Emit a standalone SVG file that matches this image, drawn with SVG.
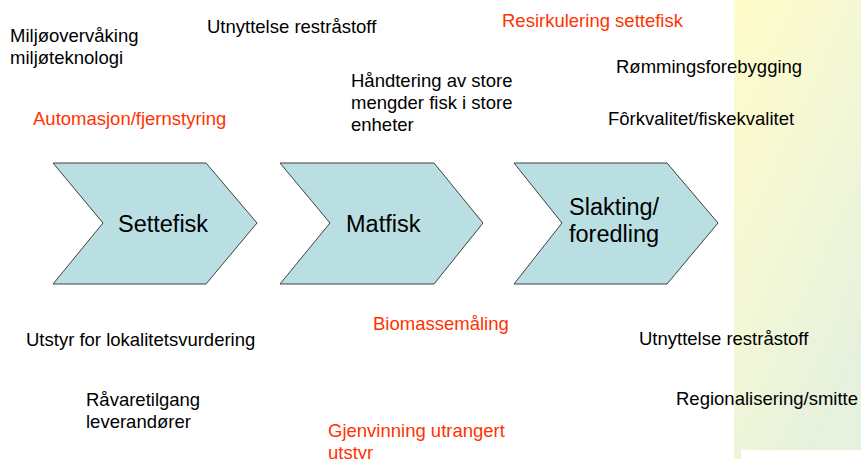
<svg xmlns="http://www.w3.org/2000/svg" width="861" height="459" viewBox="0 0 861 459">
<style>
.t{font-family:"Liberation Sans",Arial,sans-serif;font-size:18.5px;fill:#000}
.r{fill:#FF3300}
.lbl{font-family:"Liberation Sans",Arial,sans-serif;font-size:23.5px;fill:#000}
.chev{fill:#B9DFE3;stroke:#404040;stroke-width:1}
</style>
<defs>
<linearGradient id="bg" x1="0" y1="0" x2="0.6" y2="1">
<stop offset="0" stop-color="#FFFCC8"/>
<stop offset="0.35" stop-color="#F8F9D2"/>
<stop offset="0.7" stop-color="#EEF5D8"/>
<stop offset="1" stop-color="#E6F1DE"/>
</linearGradient>
</defs>
<rect x="0" y="0" width="861" height="459" fill="#FFFFFF"/>
<rect x="734" y="0" width="127" height="459" fill="url(#bg)"/>
<rect x="741" y="450" width="120" height="9" fill="#FFFFFF"/>
<g id="connectors"></g>
<g id="settefisk">
<polygon class="chev" points="53,163 206,163 257,223 206,284 53,284 103,223"/>
<text class="lbl" x="118" y="232">Settefisk</text>
</g>
<g id="matfisk">
<polygon class="chev" points="280,163 434,163 483,223 434,284 280,284 330,223"/>
<text class="lbl" x="346" y="232">Matfisk</text>
</g>
<g id="slakting">
<polygon class="chev" points="514,163 667,163 718,223 667,284 514,284 562,223"/>
<text class="lbl" x="569" y="215">Slakting/</text>
<text class="lbl" x="569" y="242">foredling</text>
</g>
<g id="labels">
<text class="t" x="10" y="42">Miljøovervåking</text>
<text class="t" x="10" y="64">miljøteknologi</text>
<text class="t" x="207" y="33">Utnyttelse restråstoff</text>
<text class="t r" x="33" y="125">Automasjon/fjernstyring</text>
<text class="t" x="351" y="87">Håndtering av store</text>
<text class="t" x="351" y="109">mengder fisk i store</text>
<text class="t" x="351" y="131">enheter</text>
<text class="t r" x="502" y="27">Resirkulering settefisk</text>
<text class="t" x="616" y="73">Rømmingsforebygging</text>
<text class="t" x="608" y="125">Fôrkvalitet/fiskekvalitet</text>
<text class="t" x="26" y="346">Utstyr for lokalitetsvurdering</text>
<text class="t r" x="373" y="330">Biomassemåling</text>
<text class="t" x="86" y="406">Råvaretilgang</text>
<text class="t" x="86" y="428">leverandører</text>
<text class="t r" x="328" y="437">Gjenvinning utrangert</text>
<text class="t r" x="328" y="459">utstyr</text>
<text class="t" x="639" y="345">Utnyttelse restråstoff</text>
<text class="t" x="676" y="405">Regionalisering/smitte</text>
</g>
</svg>
